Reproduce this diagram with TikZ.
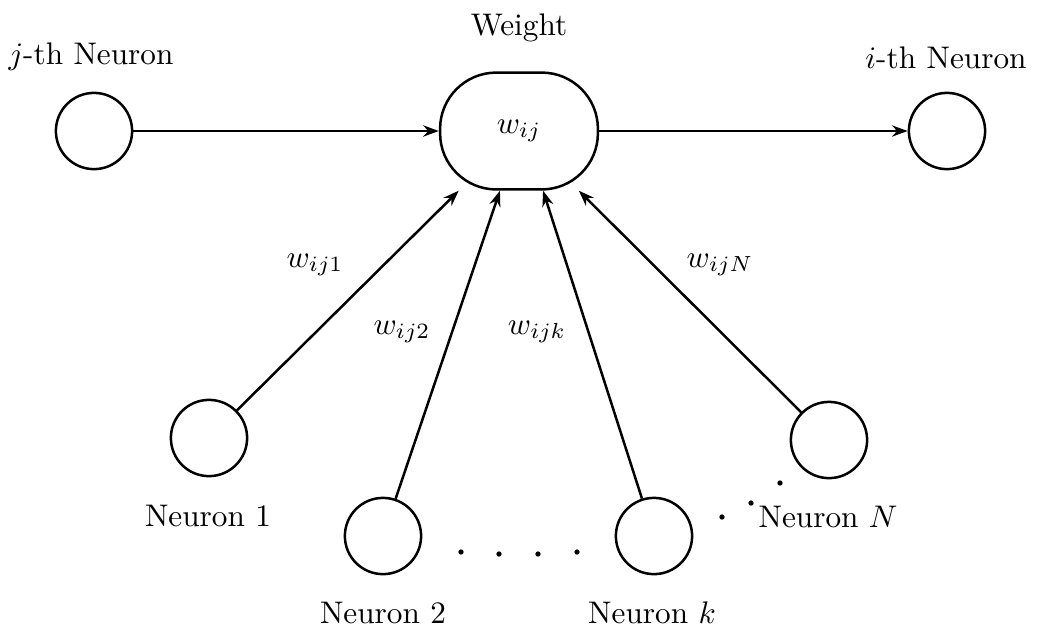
\documentclass[tikz,border=0pt]{standalone}
\usetikzlibrary{arrows.meta}
\tikzstyle{neuron} = [circle, minimum size=24.4pt, inner sep=0pt, draw=black, line width=0.8pt]
\tikzstyle{weight} = [rectangle, rounded corners=18pt, minimum width=50.5pt, minimum height=37.4pt, draw=black, line width=0.8pt]
\tikzstyle{label} = [inner sep=0pt]
\tikzstyle{arrow} = [line width=0.8pt,-{Stealth[length=5pt,width=3.6pt]}]
\begin{document}
\begin{tikzpicture}[x=0.32pt,y=-0.32pt]
    \useasboundingbox (0,0) rectangle (1037,634);
    % neurons and the weight
    \node (w) [weight] at (519,131) {$w_{ij}$};
    \node (nj) [neuron] at (94,131) {};
    \node (ni) [neuron] at (947,131) {};
    \node (n1) [neuron] at (209,438) {};
    \node (n2) [neuron] at (383,536) {};
    \node (nk) [neuron] at (654,536) {};
    \node (nN) [neuron] at (829,440) {};
    % titles
    \node (tw) [label] at (519,28) {Weight};
    \node (tj) [label] at (91,57) {$j$-th Neuron};
    \node (ti) [label] at (946,58) {$i$-th Neuron};
    \node (t1) [label] at (208,516) {Neuron 1};
    \node (t2) [label] at (383,613) {Neuron 2};
    \node (tk) [label] at (652,613) {Neuron $k$};
    \node (tN) [label] at (828,517) {Neuron $N$};
    % connections
    \draw [arrow] (nj) -- (w);
    \draw [arrow] (w) -- (ni);
    \draw [arrow] (n1) -- (w);
    \draw [arrow] (n2) -- ([xshift=-6.1pt]w.south);
    \draw [arrow] (nk) -- ([xshift=7.7pt]w.south);
    \draw [arrow] (nN) -- (w);
    \node (l1) [label] at (315,265) {$w_{ij1}$};
    \node (l2) [label] at (402,332) {$w_{ij2}$};
    \node (lk) [label] at (537,332) {$w_{ijk}$};
    \node (lN) [label] at (720,265) {$w_{ijN}$};
    % dots
    \foreach \x/\y in {461/552, 499/554, 538/554, 577/552, 722/517, 751/503, 780/483}
        \fill (\x,\y) circle (0.85pt);
\end{tikzpicture}
\end{document}
